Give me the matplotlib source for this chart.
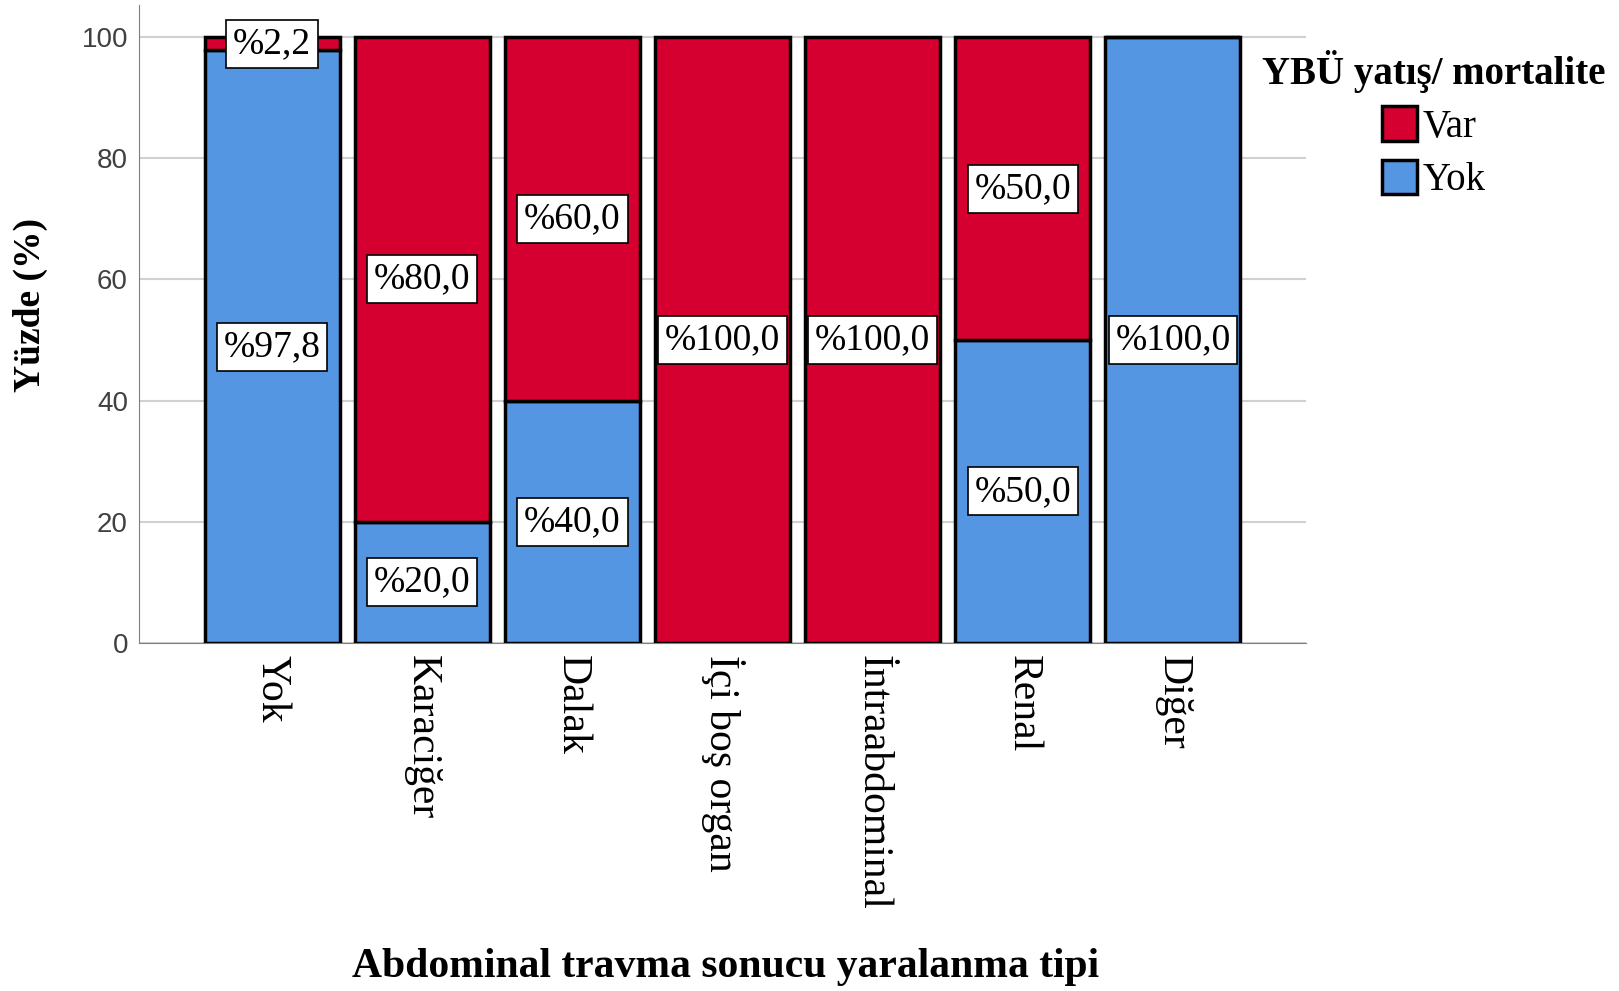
import numpy as np
import matplotlib.pyplot as plt

# data
categories = ["Yok", "Karaciğer", "Dalak", "İçi boş organ", "İntraabdominal", "Renal", "Diğer"]
yok_pct = [97.8, 20.0, 40.0, 0.0, 0.0, 50.0, 100.0]
var_pct = [2.2, 80.0, 60.0, 100.0, 100.0, 50.0, 0.0]
series_names = ["Var", "Yok"]

red = "#D5002F"
blue = "#5596E3"
serif = "Liberation Serif"

fig = plt.figure(figsize=(16.19, 9.91), dpi=100)
ax = fig.add_axes([0.0859, 0.3512, 0.7208, 0.6438])

x = np.arange(len(categories))
w = 0.9
b_yok = ax.bar(x, yok_pct, w, color=blue, edgecolor="black", linewidth=2.5, zorder=3, label=series_names[1])
b_var = ax.bar(x, var_pct, w, bottom=yok_pct, color=red, edgecolor="black", linewidth=2.5, zorder=3, label=series_names[0])

box = dict(boxstyle="square,pad=0.18", facecolor="white", edgecolor="black", linewidth=1.2)
for i in range(len(categories)):
    if yok_pct[i] > 0:
        ax.text(x[i], yok_pct[i] / 2, "%" + f"{yok_pct[i]:.1f}".replace(".", ","),
                ha="center", va="center", family=serif, fontsize=27, bbox=box, zorder=5)
    if var_pct[i] > 0:
        ax.text(x[i], yok_pct[i] + var_pct[i] / 2, "%" + f"{var_pct[i]:.1f}".replace(".", ","),
                ha="center", va="center", family=serif, fontsize=27, bbox=box, zorder=5)

ax.set_xlim(-0.887, len(categories) - 1 + 0.887)
ax.set_ylim(0, 105.3)
ax.set_yticks([0, 20, 40, 60, 80, 100])
ax.yaxis.grid(True, color="#d0d0d0", linewidth=1.5, zorder=0)
ax.set_axisbelow(True)
ax.tick_params(axis="both", length=0)
ax.tick_params(axis="y", labelsize=20, labelcolor="#404040", pad=8)
for lbl in ax.get_yticklabels():
    lbl.set_family("Liberation Sans")
ax.set_xticks(x)
ax.set_xticklabels(categories, rotation=-90, family=serif, fontsize=30, va="top")
ax.tick_params(axis="x", pad=9)
for s in ["top", "right"]:
    ax.spines[s].set_visible(False)
ax.spines["left"].set_color("#808080")
ax.spines["bottom"].set_color("#808080")

fig.text(0.019, 0.692, "Yüzde (%)", rotation=90, ha="center", va="center",
         family=serif, fontweight="bold", fontsize=27)
fig.text(0.4484, 0.0245, "Abdominal travma sonucu yaralanma tipi", ha="center", va="center",
         family=serif, fontweight="bold", fontsize=30)

leg = ax.legend(handles=[b_var, b_yok], labels=series_names, loc="upper left",
                bbox_to_anchor=(0.962, 0.93), frameon=False, title="YBÜ yatış/ mortalite",
                prop={"family": serif, "size": 28}, handlelength=0.9, handleheight=1.0,
                handletextpad=0.15, labelspacing=0.35, borderpad=0, borderaxespad=0)
leg.get_title().set_family(serif)
leg.get_title().set_fontweight("bold")
leg.get_title().set_fontsize(28)

fig.savefig("out.png", dpi=100)
